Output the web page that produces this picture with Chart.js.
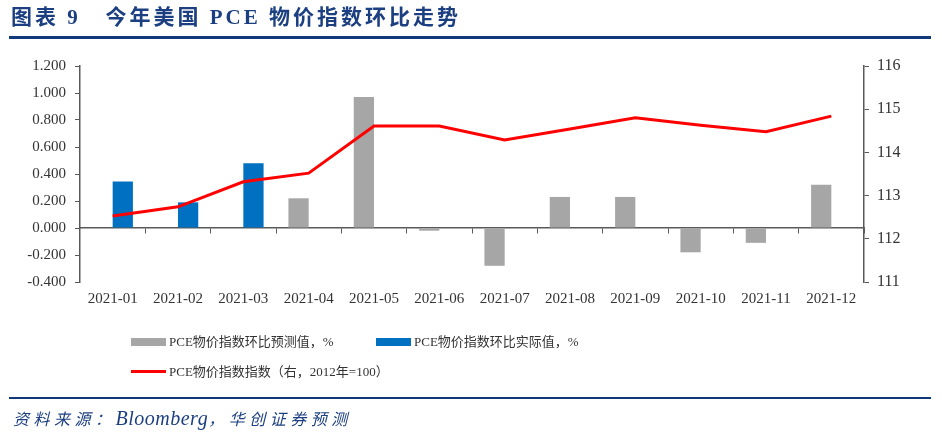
<!DOCTYPE html>
<html>
<head>
<meta charset="utf-8">
<script src="https://cdn.jsdelivr.net/npm/chart.js@4/dist/chart.umd.min.js"></script>
<style>
html,body{margin:0;padding:0;background:#fff;}
#wrap{position:relative;width:942px;height:442px;overflow:hidden;background:#fff;}
canvas{position:absolute;left:0;top:0;}
.title{position:absolute;left:11px;top:7px;font:bold 21px/21px "Liberation Serif","Noto Sans CJK SC",serif;color:#1b3f80;letter-spacing:3px;white-space:pre;}
.rule1{position:absolute;left:9px;top:36px;width:922px;height:3px;background:#10397c;}
.rule2{position:absolute;left:9px;top:397px;width:922px;height:2px;background:#10397c;}
.src{position:absolute;left:13px;top:408px;font:italic 16px/20px "Liberation Serif","Noto Sans CJK SC",serif;color:#1b3f80;white-space:pre;}
.src .c{letter-spacing:4.5px;font-size:16px;}
.src .l{font-size:20px;letter-spacing:0.5px;}
.lg{position:absolute;font:13px/16px "Liberation Serif","Noto Sans CJK SC",serif;color:#333;white-space:pre;}
.sw{position:absolute;}
</style>
</head>
<body>
<div id="wrap">
<canvas id="c" width="942" height="442"></canvas>
<div class="title">图表 9   今年美国 PCE 物价指数环比走势</div>
<div class="rule1"></div>
<div class="sw" style="left:131px;top:338px;width:35px;height:8px;background:#a6a6a6;"></div>
<div class="lg" id="lg1" style="left:169px;top:334px;"></div>
<div class="sw" style="left:376px;top:338px;width:35px;height:8px;background:#0070c0;"></div>
<div class="lg" id="lg2" style="left:414px;top:334px;"></div>
<div class="sw" style="left:131px;top:370px;width:35px;height:3px;background:#ff0000;"></div>
<div class="lg" id="lg3" style="left:169px;top:364px;"></div>
<div class="rule2"></div>
<div class="src"><span class="c">资料来源：</span><span class="l">Bloomberg</span><span class="c">，华创证券预测</span></div>
</div>
<script>
const categories = ['2021-01','2021-02','2021-03','2021-04','2021-05','2021-06','2021-07','2021-08','2021-09','2021-10','2021-11','2021-12'];
const forecastMoM = [null, null, null, 0.22, 0.97, -0.02, -0.28, 0.23, 0.23, -0.18, -0.11, 0.32];
const actualMoM = [0.345, 0.19, 0.48, null, null, null, null, null, null, null, null, null];
const pceIndex = [112.53, 112.74, 113.32, 113.52, 114.61, 114.61, 114.29, 114.54, 114.80, 114.63, 114.48, 114.84];
const leftTicks = {min: -0.4, max: 1.2, step: 0.2};
const rightTicks = {min: 111, max: 116, step: 1};
const seriesNames = ['PCE物价指数环比预测值，%', 'PCE物价指数环比实际值，%', 'PCE物价指数指数（右，2012年=100）'];

document.getElementById('lg1').textContent = seriesNames[0];
document.getElementById('lg2').textContent = seriesNames[1];
document.getElementById('lg3').textContent = seriesNames[2];

const fam = '"Liberation Serif", "Noto Sans CJK SC", serif';
const axisColor = '#595959';

new Chart(document.getElementById('c'), {
  type: 'bar',
  data: {
    labels: categories,
    datasets: [
      {type: 'line', label: seriesNames[2], data: pceIndex, yAxisID: 'y1', xAxisID: 'x',
       borderColor: '#ff0000', backgroundColor: '#ff0000', borderWidth: 3, pointRadius: 0, tension: 0, order: 0},
      {label: seriesNames[0], data: forecastMoM, yAxisID: 'y', xAxisID: 'x', backgroundColor: '#a6a6a6',
       categoryPercentage: 0.62, barPercentage: 1.0, order: 1},
      {label: seriesNames[1], data: actualMoM, yAxisID: 'y', xAxisID: 'x', backgroundColor: '#0070c0',
       categoryPercentage: 0.62, barPercentage: 1.0, order: 1}
    ]
  },
  options: {
    responsive: false,
    animation: false,
    devicePixelRatio: 1,
    layout: {padding: {left: 0, right: 0, top: 66, bottom: 0}},
    plugins: {legend: {display: false}, tooltip: {enabled: false}, title: {display: false}},
    scales: {
      x: {
        type: 'category', position: 'bottom', offset: true,
        grid: {display: false, drawTicks: false},
        border: {display: false},
        ticks: {font: {family: fam, size: 15}, color: '#333', padding: 8, maxRotation: 0, autoSkip: false},
        afterFit: s => { s.height = 160; }
      },
      x2: {
        type: 'category', position: {y: 0}, offset: true, z: 1,
        grid: {offset: true, drawOnChartArea: false, drawTicks: true, tickLength: 5, color: axisColor, lineWidth: 1},
        border: {display: true, color: axisColor, width: 1.5},
        ticks: {display: false}
      },
      y: {
        position: 'left', min: leftTicks.min, max: leftTicks.max,
        grid: {drawOnChartArea: false, drawTicks: true, tickLength: 5, color: axisColor},
        border: {display: true, color: axisColor, width: 1.5},
        ticks: {stepSize: leftTicks.step, font: {family: fam, size: 15}, color: '#333', padding: 9,
                callback: v => Number(v).toFixed(3)},
        afterFit: s => { s.width = 80; }
      },
      y1: {
        position: 'right', min: rightTicks.min, max: rightTicks.max,
        grid: {drawOnChartArea: false, drawTicks: true, tickLength: 5, color: axisColor},
        border: {display: true, color: axisColor, width: 1.5},
        ticks: {stepSize: rightTicks.step, font: {family: fam, size: 16}, color: '#333', padding: 8},
        afterFit: s => { s.width = 78; }
      }
    }
  }
});
</script>
</body>
</html>
